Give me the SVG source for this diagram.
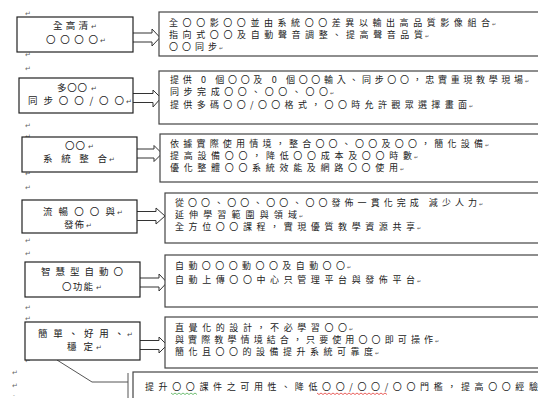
<svg xmlns="http://www.w3.org/2000/svg" width="538" height="398" viewBox="0 0 538 398">
<style>
.lbox{fill:#fff;stroke:#222;stroke-width:1.2}
.rbox{fill:#fff;stroke:#444;stroke-width:1.2}
.lt{font-family:"Noto Sans CJK TC","Noto Sans CJK SC",sans-serif;font-size:9.5px;fill:#222}
.rt{font-family:"Noto Sans CJK TC","Noto Sans CJK SC",sans-serif;font-size:9px;fill:#222}
.pm{font-family:"DejaVu Sans",sans-serif;font-size:7px;fill:#666}
.lm{font-family:"DejaVu Sans",sans-serif;font-size:7px;fill:#444}
.pr{font-family:"DejaVu Sans",sans-serif;font-size:5px;fill:#555}
.arrow{fill:#fff;stroke:#333;stroke-width:1}
.call{fill:none;stroke:#555;stroke-width:1}
</style>
<rect width="538" height="398" fill="#fff"/>
<g id="marks">
<text class="pm" x="25" y="16">↵</text>
<text class="pm" x="25" y="57">↵</text>
<text class="pm" x="25" y="71">↵</text>
<text class="pm" x="25" y="128">↵</text>
<text class="pm" x="25" y="139">↵</text>
<text class="pm" x="25" y="176">↵</text>
<text class="pm" x="25" y="190">↵</text>
<text class="pm" x="25" y="243">↵</text>
<text class="pm" x="25" y="256">↵</text>
<text class="pm" x="25" y="310">↵</text>
<text class="pm" x="25" y="321">↵</text>
<text class="pm" x="25" y="363">↵</text>
<text class="pm" x="12" y="375">↵</text>
<text class="pm" x="12" y="388">↵</text>
<text class="pm" x="13" y="397" style="font-size:5px">-</text>
</g>
<g id="connectors">
<path class="arrow" d="M133,33 L152,33 L152,29 L160,37.5 L152,46 L152,42 L133,42"/>
<path class="arrow" d="M133,93.5 L153,93.5 L153,90 L161,98 L153,107 L153,102.5 L133,102.5"/>
<path class="arrow" d="M137,149 L154,149 L154,145.5 L162,153.5 L154,161.5 L154,158 L137,158"/>
<path class="arrow" d="M137,211.5 L156,211.5 L156,208 L165,216 L156,224 L156,220.5 L137,220.5"/>
<path class="arrow" d="M140,278 L159,278 L159,274 L167,282.5 L159,291 L159,287 L140,287"/>
<path class="arrow" d="M140,340.5 L159,340.5 L159,337 L167,345 L159,353 L159,349.5 L140,349.5"/>
<polyline class="call" points="57,360 92,382 128,382"/>
<line class="call" x1="128" y1="373" x2="128" y2="398"/>
</g>
<g id="n1">
<rect class="lbox" x="17" y="17" width="116" height="35"/>
<text class="lt" x="53" y="28.5" textLength="35" lengthAdjust="spacing">全高清</text><text class="lm" x="91" y="28.5">↵</text>
<text class="lt" x="46" y="42.5" textLength="52" lengthAdjust="spacing">〇〇〇〇</text><text class="lm" x="100" y="42.5">↵</text>
</g>
<g id="d1">
<rect class="rbox" x="159" y="12" width="390" height="44"/>
<text class="rt" x="169" y="26" textLength="321" lengthAdjust="spacing">全〇〇影〇〇並由系統〇〇差異以輸出高品質影像組合</text><text class="pr" x="492" y="26">↵</text>
<text class="rt" x="169" y="38" textLength="254" lengthAdjust="spacing">指向式〇〇及自動聲音調整、提高聲音品質</text><text class="pr" x="425" y="38">↵</text>
<text class="rt" x="169" y="50" textLength="48" lengthAdjust="spacing">〇〇同步</text><text class="pr" x="219" y="50">↵</text>
</g>
<g id="n2">
<rect class="lbox" x="19" y="78" width="114" height="35"/>
<text class="lt" x="57" y="90.5" textLength="30" lengthAdjust="spacing">多〇〇</text><text class="lm" x="91" y="90.5">↵</text>
<text class="lt" x="28" y="104" textLength="96" lengthAdjust="spacing">同步〇〇/〇〇</text><text class="lm" x="126" y="104">↵</text>
</g>
<g id="d2">
<rect class="rbox" x="159" y="71" width="390" height="53"/>
<text class="rt" x="170" y="83" textLength="353" lengthAdjust="spacing">提供 0 個〇〇及 0 個〇〇輸入、同步〇〇，忠實重現教學現場</text><text class="pr" x="525" y="83">↵</text>
<text class="rt" x="170" y="95" textLength="158" lengthAdjust="spacing">同步完成〇〇、〇〇、〇〇</text><text class="pr" x="330" y="95">↵</text>
<text class="rt" x="170" y="108" textLength="297" lengthAdjust="spacing">提供多碼〇〇/〇〇格式，〇〇時允許觀眾選擇畫面</text><text class="pr" x="469" y="108">↵</text>
</g>
<g id="n3">
<rect class="lbox" x="22" y="137" width="115" height="35"/>
<text class="lt" x="65" y="148.5" textLength="20" lengthAdjust="spacing">〇〇</text><text class="lm" x="88" y="148.5">↵</text>
<text class="lt" x="43" y="162" textLength="64" lengthAdjust="spacing">系統整合</text><text class="lm" x="109" y="162">↵</text>
</g>
<g id="d3">
<rect class="rbox" x="160" y="134" width="390" height="48"/>
<text class="rt" x="170" y="147" textLength="313" lengthAdjust="spacing">依據實際使用情境，整合〇〇、〇〇及〇〇，簡化設備</text><text class="pr" x="485" y="147">↵</text>
<text class="rt" x="170" y="159" textLength="242" lengthAdjust="spacing">提高設備〇〇，降低〇〇成本及〇〇時數</text><text class="pr" x="414" y="159">↵</text>
<text class="rt" x="170" y="171" textLength="228" lengthAdjust="spacing">優化整體〇〇系統效能及網路〇〇使用</text><text class="pr" x="400" y="171">↵</text>
</g>
<g id="n4">
<rect class="lbox" x="22" y="200" width="115" height="33"/>
<text class="lt" x="43" y="214.5" textLength="72" lengthAdjust="spacing">流暢〇〇與</text><text class="lm" x="117" y="214.5">↵</text>
<text class="lt" x="64" y="227.5" textLength="20" lengthAdjust="spacing">發佈</text><text class="lm" x="86" y="227.5">↵</text>
</g>
<g id="d4">
<rect class="rbox" x="165" y="193" width="390" height="50"/>
<text class="rt" x="175" y="206" textLength="302" lengthAdjust="spacing">從〇〇、〇〇、〇〇、〇〇發佈一貫化完成 減少人力</text><text class="pr" x="479" y="206">↵</text>
<text class="rt" x="175" y="218" textLength="122" lengthAdjust="spacing">延伸學習範圍與領域</text><text class="pr" x="299" y="218">↵</text>
<text class="rt" x="175" y="230" textLength="240" lengthAdjust="spacing">全方位〇〇課程，實現優質教學資源共享</text><text class="pr" x="417" y="230">↵</text>
</g>
<g id="n5">
<rect class="lbox" x="25" y="262" width="115" height="35"/>
<text class="lt" x="41" y="274.5" textLength="82" lengthAdjust="spacing">智慧型自動〇</text>
<text class="lt" x="62" y="289.5" textLength="31" lengthAdjust="spacing">〇功能</text><text class="lm" x="96" y="289.5">↵</text>
</g>
<g id="d5">
<rect class="rbox" x="165" y="255" width="390" height="52"/>
<text class="rt" x="175" y="269" textLength="170" lengthAdjust="spacing">自動〇〇〇動〇〇及自動〇〇</text><text class="pr" x="347" y="269">↵</text>
<text class="rt" x="175" y="283" textLength="240" lengthAdjust="spacing">自動上傳〇〇中心只管理平台與發佈平台</text><text class="pr" x="417" y="283">↵</text>
</g>
<g id="n6">
<rect class="lbox" x="25" y="322" width="115" height="38"/>
<text class="lt" x="38" y="336.5" textLength="86" lengthAdjust="spacing">簡單、好用、</text><text class="lm" x="127" y="336.5">↵</text>
<text class="lt" x="67" y="349.5" textLength="26" lengthAdjust="spacing">穩定</text><text class="lm" x="96" y="349.5">↵</text>
</g>
<g id="d6">
<rect class="rbox" x="165" y="317" width="390" height="51"/>
<text class="rt" x="175" y="331" textLength="172" lengthAdjust="spacing">直覺化的設計，不必學習〇〇</text><text class="pr" x="349" y="331">↵</text>
<text class="rt" x="175" y="343" textLength="258" lengthAdjust="spacing">與實際教學情境結合，只要使用〇〇即可操作</text><text class="pr" x="435" y="343">↵</text>
<text class="rt" x="175" y="355" textLength="198" lengthAdjust="spacing">簡化且〇〇的設備提升系統可靠度</text><text class="pr" x="375" y="355">↵</text>
</g>
<g id="d7">
<rect class="rbox" x="133" y="372" width="420" height="40"/>
<text class="rt" x="145" y="390" textLength="393" lengthAdjust="spacing">提升〇〇課件之可用性、降低〇〇/〇〇/〇〇門檻，提高〇〇經驗</text>
<polyline fill="none" stroke="#4caf50" stroke-width="0.8" points="171,393 173,394.5 175,393 177,394.5 179,393 181,394.5 183,393 185,394.5 187,393 189,394.5 191,393 193,394.5 195,393 197,394.5"/>
<polyline fill="none" stroke="#e53935" stroke-width="0.8" points="317,393 319,394.5 321,393 323,394.5 325,393 327,394.5 329,393 331,394.5 333,393 335,394.5 337,393 339,394.5 341,393 343,394.5 345,393 347,394.5 349,393 351,394.5 353,393 355,394.5 357,393 359,394.5 361,393 363,394.5 365,393 367,394.5 369,393 371,394.5 373,393 375,394.5 377,393 379,394.5 381,393 383,394.5 385,393 387,394.5"/>
</g>
</svg>
